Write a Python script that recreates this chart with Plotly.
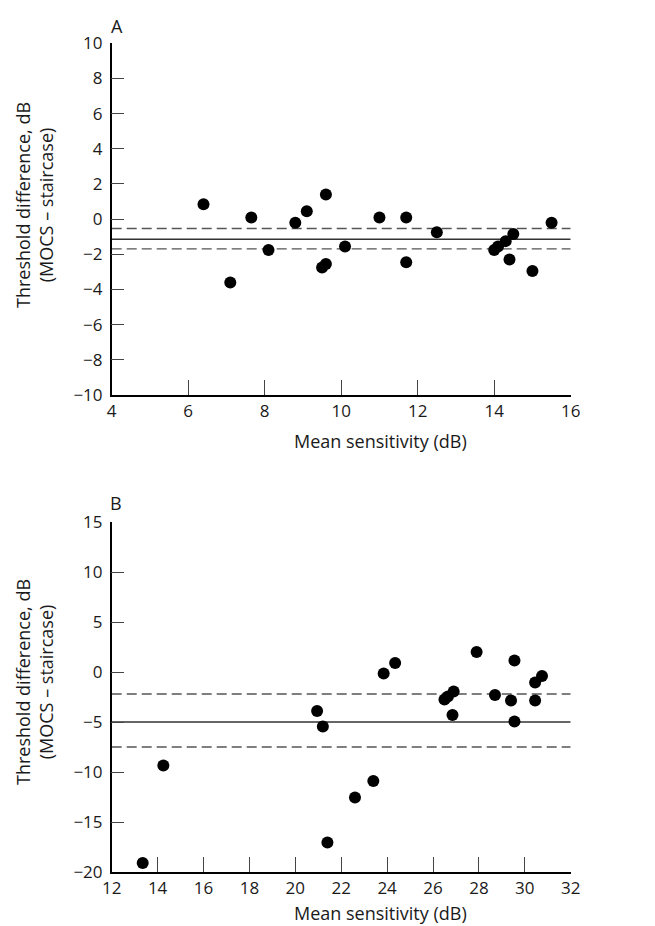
import plotly.graph_objects as go

# ---------------- data ----------------
a_x = [6.4, 7.1, 7.65, 8.1, 8.8, 9.1, 9.5, 9.6, 9.6, 10.1, 11.0, 11.7, 11.7, 12.5,
       14.0, 14.1, 14.3, 14.4, 14.5, 15.0, 15.5]
a_y = [0.85, -3.6, 0.1, -1.75, -0.2, 0.45, -2.75, 1.4, -2.55, -1.55, 0.1, 0.1, -2.45, -0.75,
       -1.75, -1.55, -1.25, -2.3, -0.85, -2.95, -0.2]
a_mean = -1.14
a_limits = [-0.53, -1.69]

b_x = [13.35, 14.25, 20.95, 21.2, 21.4, 22.6, 23.4, 23.85, 24.35, 26.5, 26.65, 26.85, 26.9,
       27.9, 28.7, 29.4, 29.55, 29.55, 30.45, 30.45, 30.75]
b_y = [-19.1, -9.35, -3.9, -5.45, -17.05, -12.55, -10.9, -0.15, 0.9, -2.75, -2.45, -4.3, -1.95,
       2.0, -2.3, -2.85, 1.15, -4.95, -1.05, -2.85, -0.4]
b_mean = -5.0
b_limits = [-2.2, -7.5]

a_xticks = [4, 6, 8, 10, 12, 14, 16]
a_yticks = [-10, -8, -6, -4, -2, 0, 2, 4, 6, 8, 10]
b_xticks = [12, 14, 16, 18, 20, 22, 24, 26, 28, 30, 32]
b_yticks = [-20, -15, -10, -5, 0, 5, 10, 15]

x_title = "Mean sensitivity (dB)"
y_title = "Threshold difference, dB<br>(MOCS – staircase)"
panel_labels = ["A", "B"]

# ---------------- layout helpers ----------------
# page body has an 8px margin, so the figure is drawn 8px in from the window edge
OFF = 8
W, H = 655 - OFF, 926 - OFF
FONT = "'Open Sans', sans-serif"
TXT = "#1a1a1a"


def px_x(p):
    return (p - OFF) / W


def px_y(p):
    return 1 - (p - OFF) / H


x_dom = [px_x(111.7), px_x(570.7)]
a_dom = [px_y(395), px_y(43.3)]
b_dom = [px_y(872), px_y(522)]

fig = go.Figure()
fig.add_trace(go.Scatter(x=a_x, y=a_y, mode="markers", xaxis="x", yaxis="y",
                         marker=dict(color="black", size=12), showlegend=False))
fig.add_trace(go.Scatter(x=b_x, y=b_y, mode="markers", xaxis="x2", yaxis="y2",
                         marker=dict(color="black", size=12), showlegend=False))

shapes = []
for xr, yr, xr_rng, mean, lims in [("x", "y", [a_xticks[0], a_xticks[-1]], a_mean, a_limits),
                                   ("x2", "y2", [b_xticks[0], b_xticks[-1]], b_mean, b_limits)]:
    shapes.append(dict(type="line", xref=xr, yref=yr, x0=xr_rng[0], x1=xr_rng[1], y0=mean, y1=mean,
                       line=dict(color="#333333", width=1.4), layer="below"))
    for l in lims:
        shapes.append(dict(type="line", xref=xr, yref=yr, x0=xr_rng[0], x1=xr_rng[1], y0=l, y1=l,
                           line=dict(color="#555555", width=1.4, dash="10px,5px"), layer="below"))

axis_common = dict(showgrid=False, zeroline=False, showline=True, linecolor="black", linewidth=1.5,
                   ticks="inside", tickcolor="#444444", tickwidth=1, automargin=False,
                   tickfont=dict(family=FONT, size=17, color=TXT))


def label(text, x, y, angle=0):
    return dict(text=text, x=px_x(x), y=px_y(y), xref="paper", yref="paper", showarrow=False,
                xanchor="center", yanchor="middle", textangle=angle,
                font=dict(family=FONT, size=18, color=TXT))


annotations = [
    label(panel_labels[0], 117, 26),
    label(panel_labels[1], 116, 503),
    label(y_title, 34, 205, -90),
    label(y_title, 34, 682, -90),
    label(x_title, 380, 441),
    label(x_title, 380, 913),
]

fig.update_layout(
    template="none",
    width=W, height=H,
    margin=dict(l=0, r=0, t=0, b=0, pad=0),
    paper_bgcolor="white", plot_bgcolor="white",
    font=dict(family=FONT, color=TXT),
    showlegend=False,
    xaxis=dict(domain=x_dom, anchor="y", range=[a_xticks[0], a_xticks[-1]], tickvals=a_xticks,
               ticklen=15, **axis_common),
    yaxis=dict(domain=a_dom, anchor="x", range=[a_yticks[0], a_yticks[-1]], tickvals=a_yticks,
               ticklen=13, ticklabelstandoff=4, **axis_common),
    xaxis2=dict(domain=x_dom, anchor="y2", range=[b_xticks[0], b_xticks[-1]], tickvals=b_xticks,
                ticklen=15, **axis_common),
    yaxis2=dict(domain=b_dom, anchor="x2", range=[b_yticks[0], b_yticks[-1]], tickvals=b_yticks,
                ticklen=13, ticklabelstandoff=4, **axis_common),
    shapes=shapes,
    annotations=annotations,
)

fig.write_html("out.html")
